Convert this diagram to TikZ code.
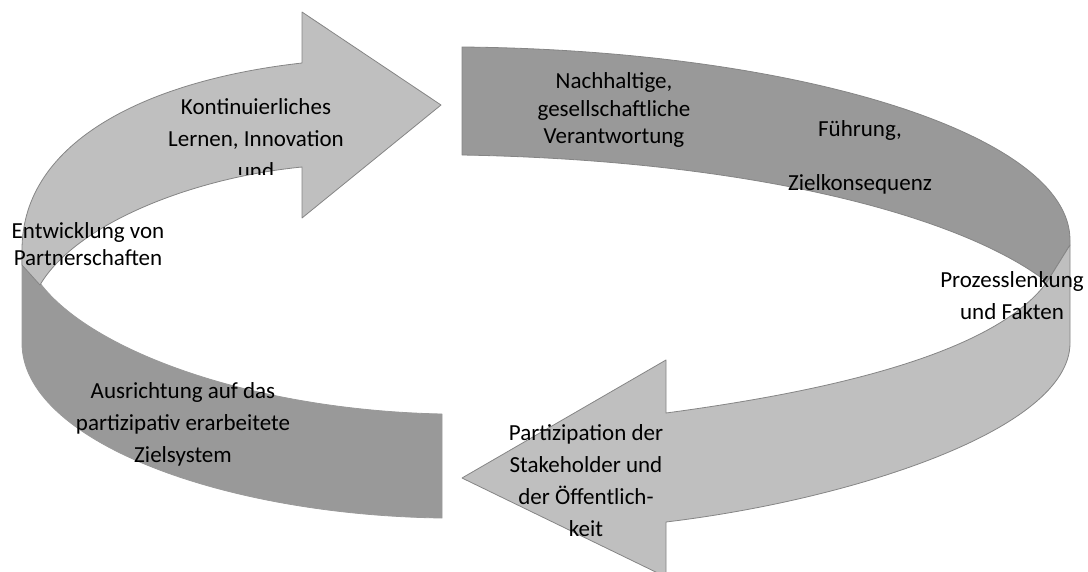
\documentclass[tikz,border=0pt]{standalone}
\usepackage{fontspec}
\setmainfont{Carlito}
\definecolor{faceLight}{HTML}{BFBFBF}
\definecolor{faceDark}{HTML}{999999}
\definecolor{rimLine}{HTML}{858585}
\begin{document}
\begin{tikzpicture}[x=1pt,y=-1pt,
  lightface/.style={fill=faceLight, draw=rimLine, line width=0.8pt, line join=round},
  darkface/.style={fill=faceDark, draw=rimLine, line width=0.8pt, line join=round},
  label/.style={align=center, inner sep=0pt, text=black, font=\fontsize{23}{32}\selectfont},
  tight/.style={font=\fontsize{23}{27.5}\selectfont}]
\useasboundingbox (0,0) rectangle (1088,571);
\clip (0,0) rectangle (1088,571);

% back side of the band, lower left (tail of the upper arrow)
\path[darkface, draw=faceDark] (442,414) -- (442,518)
  .. controls (220,515) and (22,440) .. (22,343)
  -- (22,250) -- (40,283)
  .. controls (90,350) and (250,410) .. (442,414) -- cycle;

% front face of the upper arrow
\path[lightface] (22,265) -- (22,250)
  .. controls (22,140) and (150,80) .. (302,63)
  -- (302,12) -- (441,105) -- (302,218) -- (302,167)
  .. controls (190,178) and (75,225) .. (40,285) -- cycle;

% back side of the band, upper right (tail of the lower arrow)
\path[darkface] (462,47) -- (462,155)
  .. controls (750,160) and (960,215) .. (1047,282)
  -- (1070,245) -- (1070,240)
  .. controls (1070,135) and (800,50) .. (462,47) -- cycle;

% front face of the lower arrow
\path[lightface] (1070,245) -- (1070,343)
  .. controls (1070,430) and (850,500) .. (666,522)
  -- (666,577) -- (462,478) -- (666,360) -- (666,413)
  .. controls (800,395) and (990,360) .. (1047,282) -- cycle;

% labels
\begin{scope}
  \clip (140,80) rectangle (370,174);
  \node[label] (learn) at (256,139) {Kontinuierliches\\Lernen, Innovation\\und};
\end{scope}
\node[label, tight] (csr) at (614,110) {Nachhaltige,\\gesellschaftliche\\Verantwortung};
\node[label] (lead) at (860,130) {Führung,};
\node[label] (goal) at (860,184) {Zielkonsequenz};
\node[label] (proc) at (1012,296) {Prozesslenkung\\und Fakten};
\node[label] (part) at (586,481) {Partizipation der\\Stakeholder und\\der Öffentlich-\\keit};
\node[label] (align) at (183,424) {Ausrichtung auf das\\partizipativ erarbeitete\\Zielsystem};
\node[label, tight] (partner) at (88,244) {Entwicklung von\\Partnerschaften};
\end{tikzpicture}
\end{document}
